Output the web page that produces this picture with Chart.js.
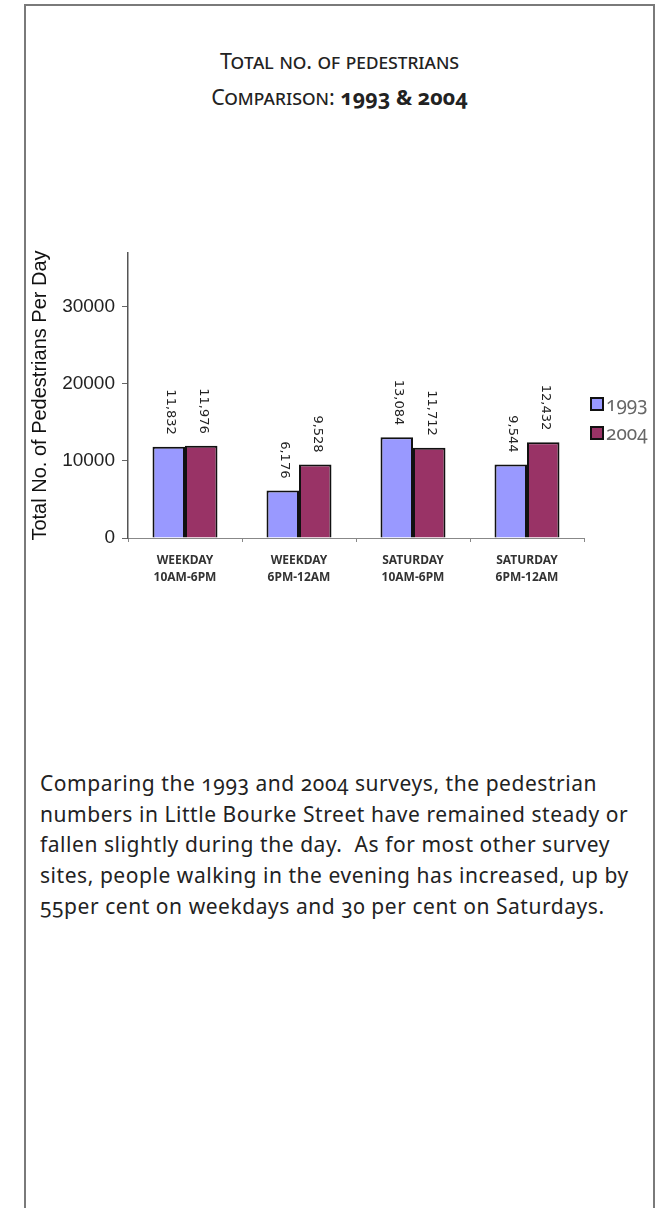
<!DOCTYPE html>
<html>
<head>
<meta charset="utf-8">
<script src="https://cdn.jsdelivr.net/npm/chart.js@4.4.1/dist/chart.umd.min.js"></script>
<style>
  html, body { margin: 0; padding: 0; background: #fff; }
  body { width: 666px; height: 1208px; position: relative; overflow: hidden; font-family: 'Noto Sans', sans-serif; }
  .frame { position: absolute; left: 24px; top: 4px; width: 627px; height: 1260px; border: 2px solid #7a7a7a; border-bottom: none; }
  .title { position: absolute; left: 24px; width: 631px; text-align: center; font-variant: small-caps; color: #222; font-size: 21.5px; font-feature-settings: "onum"; }
  .title b { font-variant: normal; }
  #wrap { position: absolute; left: 24px; top: 230px; width: 630px; height: 380px; }
  #legend { position: absolute; left: 590px; top: 389px; font-size: 19px; color: #666; font-feature-settings: "onum"; }
  #legend div { display: flex; align-items: center; height: 29px; }
  #legend span.box { width: 10px; height: 10px; border: 2px solid #111; margin-right: 2px; }
  .text { position: absolute; left: 40px; top: 768px; width: 620px; white-space: nowrap; font-size: 21px; letter-spacing: 0.55px; line-height: 30.7px; color: #222; font-feature-settings: "onum"; }
</style>
</head>
<body>
<div class="frame"></div>
<div class="title" style="top:46px">Total no. of pedestrians</div>
<div class="title" style="top:82px">Comparison: <b>1993 &amp; 2004</b></div>
<div id="wrap"><canvas id="chart"></canvas></div>
<div id="legend"></div>
<div class="text">Comparing the 1993 and 2004 surveys, the pedestrian<br>numbers in Little Bourke Street have remained steady or<br>fallen slightly during the day.&nbsp; As for most other survey<br>sites, people walking in the evening has increased, up by<br>55per cent on weekdays and 30 per cent on Saturdays.</div>
<script>
// chart data
const categories = [['WEEKDAY', '10AM-6PM'], ['WEEKDAY', '6PM-12AM'], ['SATURDAY', '10AM-6PM'], ['SATURDAY', '6PM-12AM']];
const seriesNames = ['1993', '2004'];
const values1993 = [11832, 6176, 13084, 9544];
const values2004 = [11976, 9528, 11712, 12432];
const seriesColors = ['#9999ff', '#993366'];
const yTicks = [0, 10000, 20000, 30000];

// rotated value labels above each bar
const valueLabels = {
  id: 'valueLabels',
  afterDatasetsDraw(chart) {
    const ctx = chart.ctx;
    ctx.save();
    ctx.font = '13px "DejaVu Sans", Verdana, sans-serif';
    ctx.fillStyle = '#222';
    ctx.textAlign = 'right';
    ctx.textBaseline = 'middle';
    chart.data.datasets.forEach((ds, i) => {
      chart.getDatasetMeta(i).data.forEach((bar, j) => {
        ctx.save();
        ctx.translate(bar.x + 2, bar.y - 12);
        ctx.rotate(Math.PI / 2);
        ctx.fillText(ds.data[j].toLocaleString('en-US'), 0, 0);
        ctx.restore();
      });
    });
    ctx.restore();
  }
};

new Chart(document.getElementById('chart'), {
  type: 'bar',
  data: {
    labels: categories,
    datasets: [
      { label: seriesNames[0], data: values1993, backgroundColor: seriesColors[0], borderColor: '#111', borderWidth: 2 },
      { label: seriesNames[1], data: values2004, backgroundColor: seriesColors[1], borderColor: '#111', borderWidth: 2 }
    ]
  },
  options: {
    responsive: true,
    maintainAspectRatio: false,
    animation: false,
    layout: { padding: { top: 23, right: 70, left: 0, bottom: 0 } },
    plugins: { legend: { display: false }, tooltip: { enabled: false } },
    datasets: { bar: { categoryPercentage: 0.57, barPercentage: 1 } },
    scales: {
      x: {
        grid: { drawOnChartArea: false, tickLength: 4, color: '#888' },
        border: { color: '#888', width: 1 },
        ticks: { color: '#333', font: { family: 'Noto Sans', weight: 'bold', size: 12, lineHeight: 1.42 }, padding: 10, maxRotation: 0 },
        afterFit(scale) { scale.height = 72; }
      },
      y: {
        min: 0,
        max: 37000,
        grid: { drawOnChartArea: false, tickLength: 6, color: '#666' },
        border: { color: '#555', width: 1.5 },
        ticks: { color: '#222', font: { family: 'Arial, "Liberation Sans"', size: 19 }, padding: 7, callback: v => String(v) },
        afterBuildTicks(scale) { scale.ticks = yTicks.map(v => ({ value: v })); },
        title: { display: true, text: 'Total No. of Pedestrians Per Day', color: '#111', font: { family: 'Arial, "Liberation Sans"', size: 20 }, padding: { top: 4, bottom: 0 } },
        afterFit(scale) { scale.width = 104; }
      }
    }
  },
  plugins: [valueLabels]
});

// legend from series
const legend = document.getElementById('legend');
seriesNames.forEach((name, i) => {
  const row = document.createElement('div');
  row.innerHTML = `<span class="box" style="background:${seriesColors[i]}"></span>${name}`;
  legend.appendChild(row);
});
</script>
</body>
</html>
